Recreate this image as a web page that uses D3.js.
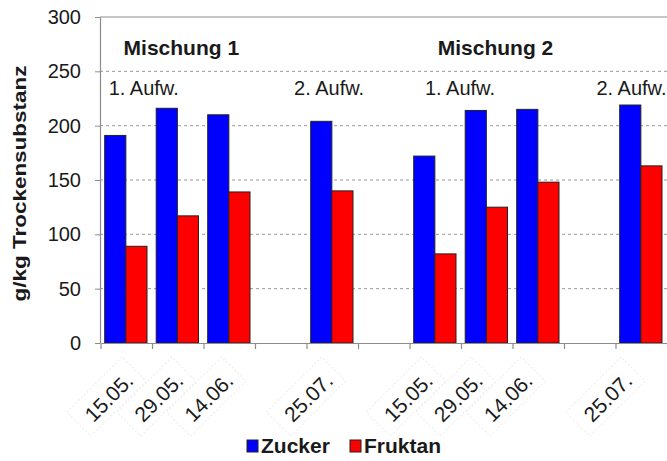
<!DOCTYPE html>
<html>
<head>
<meta charset="utf-8">
<script src="https://cdn.jsdelivr.net/npm/d3@7"></script>
<style>
  html, body { margin: 0; padding: 0; background: #fff; }
  svg { display: block; font-family: "Liberation Sans", Arial, sans-serif; }
</style>
</head>
<body>
<svg id="chart" width="667" height="461"></svg>
<script>
// ---- data ----
const categories = ["15.05.", "29.05.", "14.06.", "", "25.07.", "", "15.05.", "29.05.", "14.06.", "", "25.07."];
const seriesNames = ["Zucker", "Fruktan"];
const zucker  = [191, 216, 210, null, 204, null, 172, 214, 215, null, 219];
const fruktan = [ 89, 117, 139, null, 140, null,  82, 125, 148, null, 163];
const yTicks = [0, 50, 100, 150, 200, 250, 300];
const groupLabels = ["Mischung 1", "Mischung 2"];
const groupLabelPos = [1.06, 7.16];       // in category units
const groupLabelVal = [265, 265];
const cutLabels = ["1. Aufw.", "2. Aufw.", "1. Aufw.", "2. Aufw."];
const cutLabelPos = [0.33, 3.93, 6.47, 9.8];
const cutLabelVal = [228, 228, 228, 228];
const colors = ["#0000ff", "#ff0000"];
const yTitle = "g/kg Trockensubstanz";

// ---- layout ----
const svg = d3.select("#chart");
const mLeft = 101, mTop = 17, mBottom = 343, bandW = 51.5;
const mRight = mLeft + categories.length * bandW;

const x0 = d3.scaleBand().domain(d3.range(categories.length)).range([mLeft, mRight]).padding(0);
const x1 = d3.scaleBand().domain(seriesNames).range([3.7, 46]).padding(0);
const y = d3.scaleLinear().domain([0, 300]).range([mBottom, mTop]);
const posX = d3.scaleLinear().domain([0, 10]).range([x0(0) + x0.bandwidth() / 2, x0(10) + x0.bandwidth() / 2]);
const labelX = d3.scaleLinear().domain([0, 10]).range([x0(0) + x0.bandwidth() / 2 + 8, x0(10) + x0.bandwidth() / 2 - 8]);

// faint label boxes (rotated frames behind the date labels)
svg.append("g").selectAll("rect")
  .data(categories.map((c, i) => ({ c, i })).filter(d => d.c))
  .join("rect")
  .attr("transform", d => `translate(${labelX(d.i)},${y(0) + 38}) rotate(-45)`)
  .attr("x", -70).attr("y", -26).attr("width", 78).attr("height", 34)
  .attr("fill", "none").attr("stroke", "#ececec").attr("stroke-width", 1)
  .attr("stroke-dasharray", "2,2");

// gridlines
svg.append("g").selectAll("line")
  .data(yTicks.filter(t => t > 0 && t < 300))
  .join("line")
  .attr("x1", mLeft - 1).attr("x2", 667)
  .attr("y1", d => y(d)).attr("y2", d => y(d))
  .attr("stroke", "#999").attr("stroke-width", 1)
  .attr("stroke-dasharray", "3,3");

// top border
svg.append("line")
  .attr("x1", mLeft - 1).attr("x2", 667)
  .attr("y1", y(300)).attr("y2", y(300))
  .attr("stroke", "#8c8c8c").attr("stroke-width", 1.2);

// bars
const series = [zucker, fruktan];
const barData = [];
categories.forEach((c, i) => {
  seriesNames.forEach((s, k) => {
    if (series[k][i] != null) barData.push({ i, s, k, v: series[k][i] });
  });
});
svg.append("g").selectAll("rect")
  .data(barData)
  .join("rect")
  .attr("x", d => x0(d.i) + x1(d.s))
  .attr("width", x1.bandwidth())
  .attr("y", d => y(d.v))
  .attr("height", d => y(0) - y(d.v))
  .attr("fill", d => colors[d.k])
  .attr("stroke", "#222")
  .attr("stroke-width", 1);

// y axis
const yAxis = d3.axisLeft(y).tickValues(yTicks).tickSize(5).tickPadding(14).tickSizeOuter(0);
const gy = svg.append("g").attr("transform", `translate(${mLeft - 1},0)`).call(yAxis);
gy.select(".domain").attr("stroke", "#8c8c8c").attr("stroke-width", 1.2);
gy.selectAll(".tick line").attr("stroke", "#8c8c8c");
gy.selectAll(".tick text").attr("font-size", 20).attr("fill", "#1a1a1a")
  .attr("font-family", "Liberation Sans, Arial, sans-serif");

// x axis
const xAxis = d3.axisBottom(x0).tickSize(0).tickFormat("");
const gx = svg.append("g").attr("transform", `translate(0,${y(0)})`).call(xAxis);
gx.select(".domain").attr("stroke", "#8c8c8c").attr("stroke-width", 1.2);
// tick marks at band boundaries
svg.append("g").selectAll("line")
  .data(d3.range(categories.length + 1))
  .join("line")
  .attr("x1", d => mLeft + d * x0.step()).attr("x2", d => mLeft + d * x0.step())
  .attr("y1", y(0)).attr("y2", y(0) + 6)
  .attr("stroke", "#8c8c8c").attr("stroke-width", 1.2);

// x labels (rotated)
svg.append("g").selectAll("text")
  .data(categories.map((c, i) => ({ c, i })).filter(d => d.c))
  .join("text")
  .attr("transform", d => `translate(${labelX(d.i)},${y(0) + 39}) rotate(-45)`)
  .attr("text-anchor", "end")
  .attr("font-size", 21)
  .attr("fill", "#1a1a1a")
  .text(d => d.c);

// group labels
svg.append("g").selectAll("text")
  .data(groupLabels)
  .join("text")
  .attr("x", (d, i) => posX(groupLabelPos[i]))
  .attr("y", (d, i) => y(groupLabelVal[i]))
  .attr("text-anchor", "middle")
  .attr("font-size", 21).attr("font-weight", "bold")
  .attr("fill", "#1a1a1a")
  .text(d => d);

svg.append("g").selectAll("text")
  .data(cutLabels)
  .join("text")
  .attr("x", (d, i) => posX(cutLabelPos[i]))
  .attr("y", (d, i) => y(cutLabelVal[i]))
  .attr("text-anchor", "middle")
  .attr("font-size", 20)
  .attr("fill", "#1a1a1a")
  .text(d => d);

// y title
svg.append("text")
  .attr("transform", `translate(20,${(65 + 302) / 2}) rotate(-90)`)
  .attr("text-anchor", "middle")
  .attr("dominant-baseline", "central")
  .attr("font-size", 18).attr("font-weight", "bold")
  .attr("fill", "#1a1a1a")
  .attr("textLength", 236).attr("lengthAdjust", "spacingAndGlyphs")
  .text(yTitle);

// legend
const legend = svg.append("g").attr("transform", "translate(247,440)");
const legX = [0, 103];
seriesNames.forEach((s, k) => {
  const g = legend.append("g").attr("transform", `translate(${legX[k]},0)`);
  g.append("rect").attr("width", 11).attr("height", 12)
    .attr("fill", colors[k]).attr("stroke", "#222").attr("stroke-width", 1);
  g.append("text").attr("x", 14).attr("y", 12.5)
    .attr("font-size", 21).attr("font-weight", "bold").attr("fill", "#1a1a1a")
    .text(s);
});
</script>
</body>
</html>
